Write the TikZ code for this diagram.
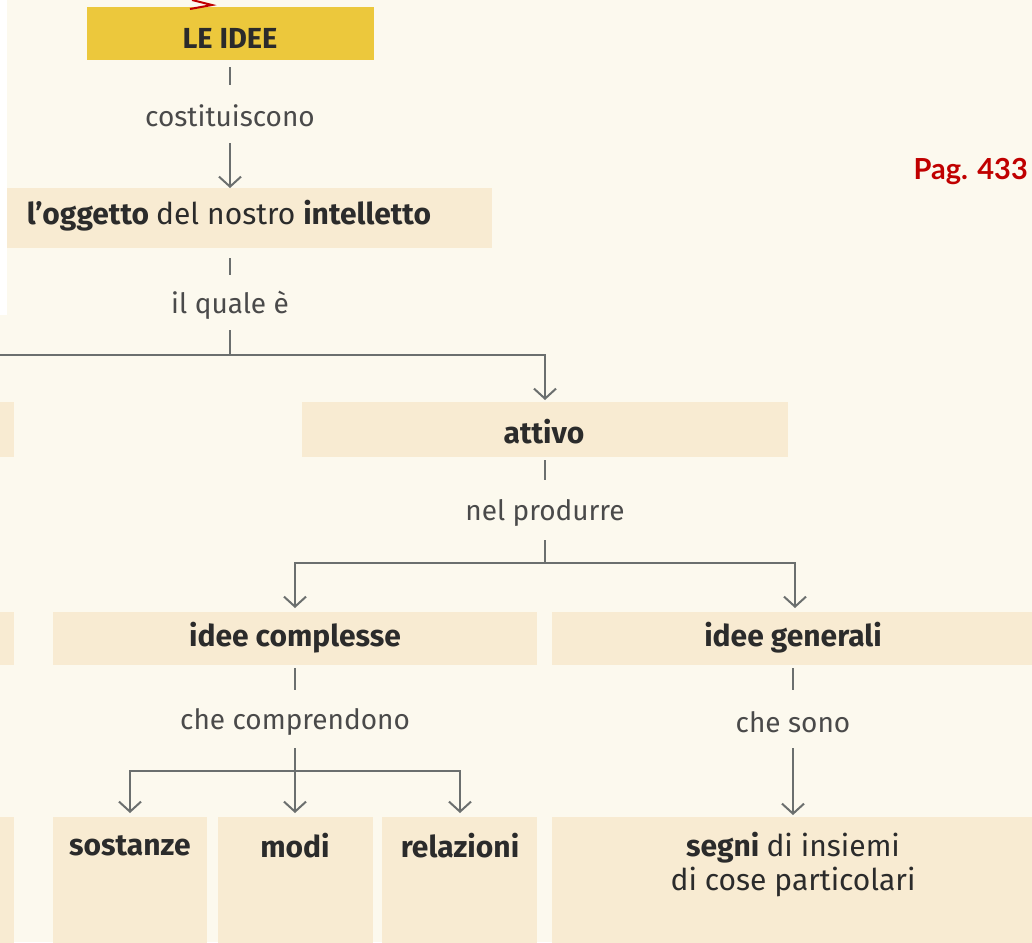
\documentclass[tikz,border=0pt]{standalone}
\usepackage{fontspec}
\setmainfont{Fira Sans}
\newfontfamily\pagfont{Lato}
\usetikzlibrary{arrows.meta}
\definecolor{bgcol}{HTML}{FCF9EE}
\definecolor{boxcol}{HTML}{F8EBD2}
\definecolor{yellowcol}{HTML}{ECC83C}
\definecolor{linecol}{HTML}{6B6F6E}
\definecolor{txtcol}{HTML}{2B2B2B}
\definecolor{lblcol}{HTML}{4A4A4A}
\definecolor{pagred}{HTML}{C00000}
\tikzset{
  box/.style={fill=boxcol, draw=none, inner sep=0pt, anchor=north west},
  ybox/.style={fill=yellowcol, draw=none, inner sep=0pt, anchor=north west},
  boldtxt/.style={text=txtcol, font=\fontsize{30}{34}\selectfont\bfseries, inner sep=0pt, align=center},
  lbl/.style={text=lblcol, font=\fontsize{28}{32}\selectfont, inner sep=0pt},
  conn/.style={draw=linecol, line width=2pt},
  arr/.style={conn, -{Straight Barb[length=10pt,width=22pt]}},
}
\begin{document}
\begin{tikzpicture}[x=1pt,y=-1pt]
\useasboundingbox (0,0) rectangle (1032,942);
\fill[bgcol] (0,0) rectangle (1032,942);
\fill[white] (0,0) rectangle (7,315);
% boxes
\node[ybox, minimum width=287, minimum height=53] (ideebox) at (87,7) {};
\node[box, minimum width=485, minimum height=60] (oggbox) at (7,188) {};
\node[box, minimum width=24, minimum height=55] (leftA) at (-10,402) {};
\node[box, minimum width=486, minimum height=55] (attbox) at (302,402) {};
\node[box, minimum width=24, minimum height=53] (leftB) at (-10,612) {};
\node[box, minimum width=484, minimum height=53] (compbox) at (53,612) {};
\node[box, minimum width=490, minimum height=53] (genbox) at (552,612) {};
\node[box, minimum width=24, minimum height=140] (leftC) at (-10,817) {};
\node[box, minimum width=154, minimum height=140] (sosbox) at (53,817) {};
\node[box, minimum width=155, minimum height=140] (modbox) at (218,817) {};
\node[box, minimum width=155, minimum height=140] (relbox) at (382,817) {};
\node[box, minimum width=490, minimum height=140] (segbox) at (552,817) {};
% texts
\node[boldtxt, font=\fontsize{29}{32}\selectfont\bfseries] (idee) at (230,38) {LE IDEE};
\node[lbl] (costit) at (230,116) {costituiscono};
\node[boldtxt] (ogg) at (229,216) {l’oggetto \mdseries del nostro \bfseries intelletto};
\node[lbl] (quale) at (230,305) {il quale è};
\node[boldtxt] (attivo) at (544,432) {attivo};
\node[lbl] (produrre) at (545,513) {nel produrre};
\node[boldtxt] (complesse) at (295,638) {idee complesse};
\node[boldtxt] (generali) at (793,638) {idee generali};
\node[lbl] (comprend) at (295,722) {che comprendono};
\node[lbl] (sono) at (793,722) {che sono};
\node[boldtxt] (sostanze) at (130,846) {sostanze};
\node[boldtxt] (modi) at (295,846) {modi};
\node[boldtxt] (relazioni) at (460,846) {relazioni};
\node[boldtxt] (segni) at (793,865) {segni \mdseries di insiemi\\ \mdseries di cose particolari};
\node[text=pagred, font=\pagfont\fontsize{29}{32}\selectfont\bfseries, inner sep=0pt, anchor=east] (pag) at (1028,172) {Pag. 433};
% red arrow mark at top
\coordinate (rA) at (192,0);
\coordinate (rB) at (212,5);
\coordinate (rC) at (190,9);
\draw[pagred, line width=2pt] (rA) -- (rB) -- (rC);
% coordinates for connectors
\coordinate (jq) at (230,355);
\coordinate (jp) at (545,563);
\coordinate (jc) at (295,771);
% connectors
\draw[conn] (230,67) -- (230,85);
\draw[arr] (230,143) -- (230,188);
\draw[conn] (230,258) -- (230,275);
\draw[conn] (230,330) -- (jq);
\draw[conn] (jq) -- (0,355);
\draw[arr] (jq) -- (545,355) -- (545,400);
\draw[conn] (545,460) -- (545,480);
\draw[conn] (545,540) -- (jp);
\draw[arr] (jp) -- (295,563) -- (295,608);
\draw[arr] (jp) -- (795,563) -- (795,608);
\draw[conn] (295,668) -- (295,690);
\draw[conn] (793,668) -- (793,690);
\draw[arr] (295,748) -- (295,813);
\draw[arr] (jc) -- (130,771) -- (130,813);
\draw[arr] (jc) -- (460,771) -- (460,813);
\draw[arr] (793,748) -- (793,815);
\end{tikzpicture}
\end{document}
